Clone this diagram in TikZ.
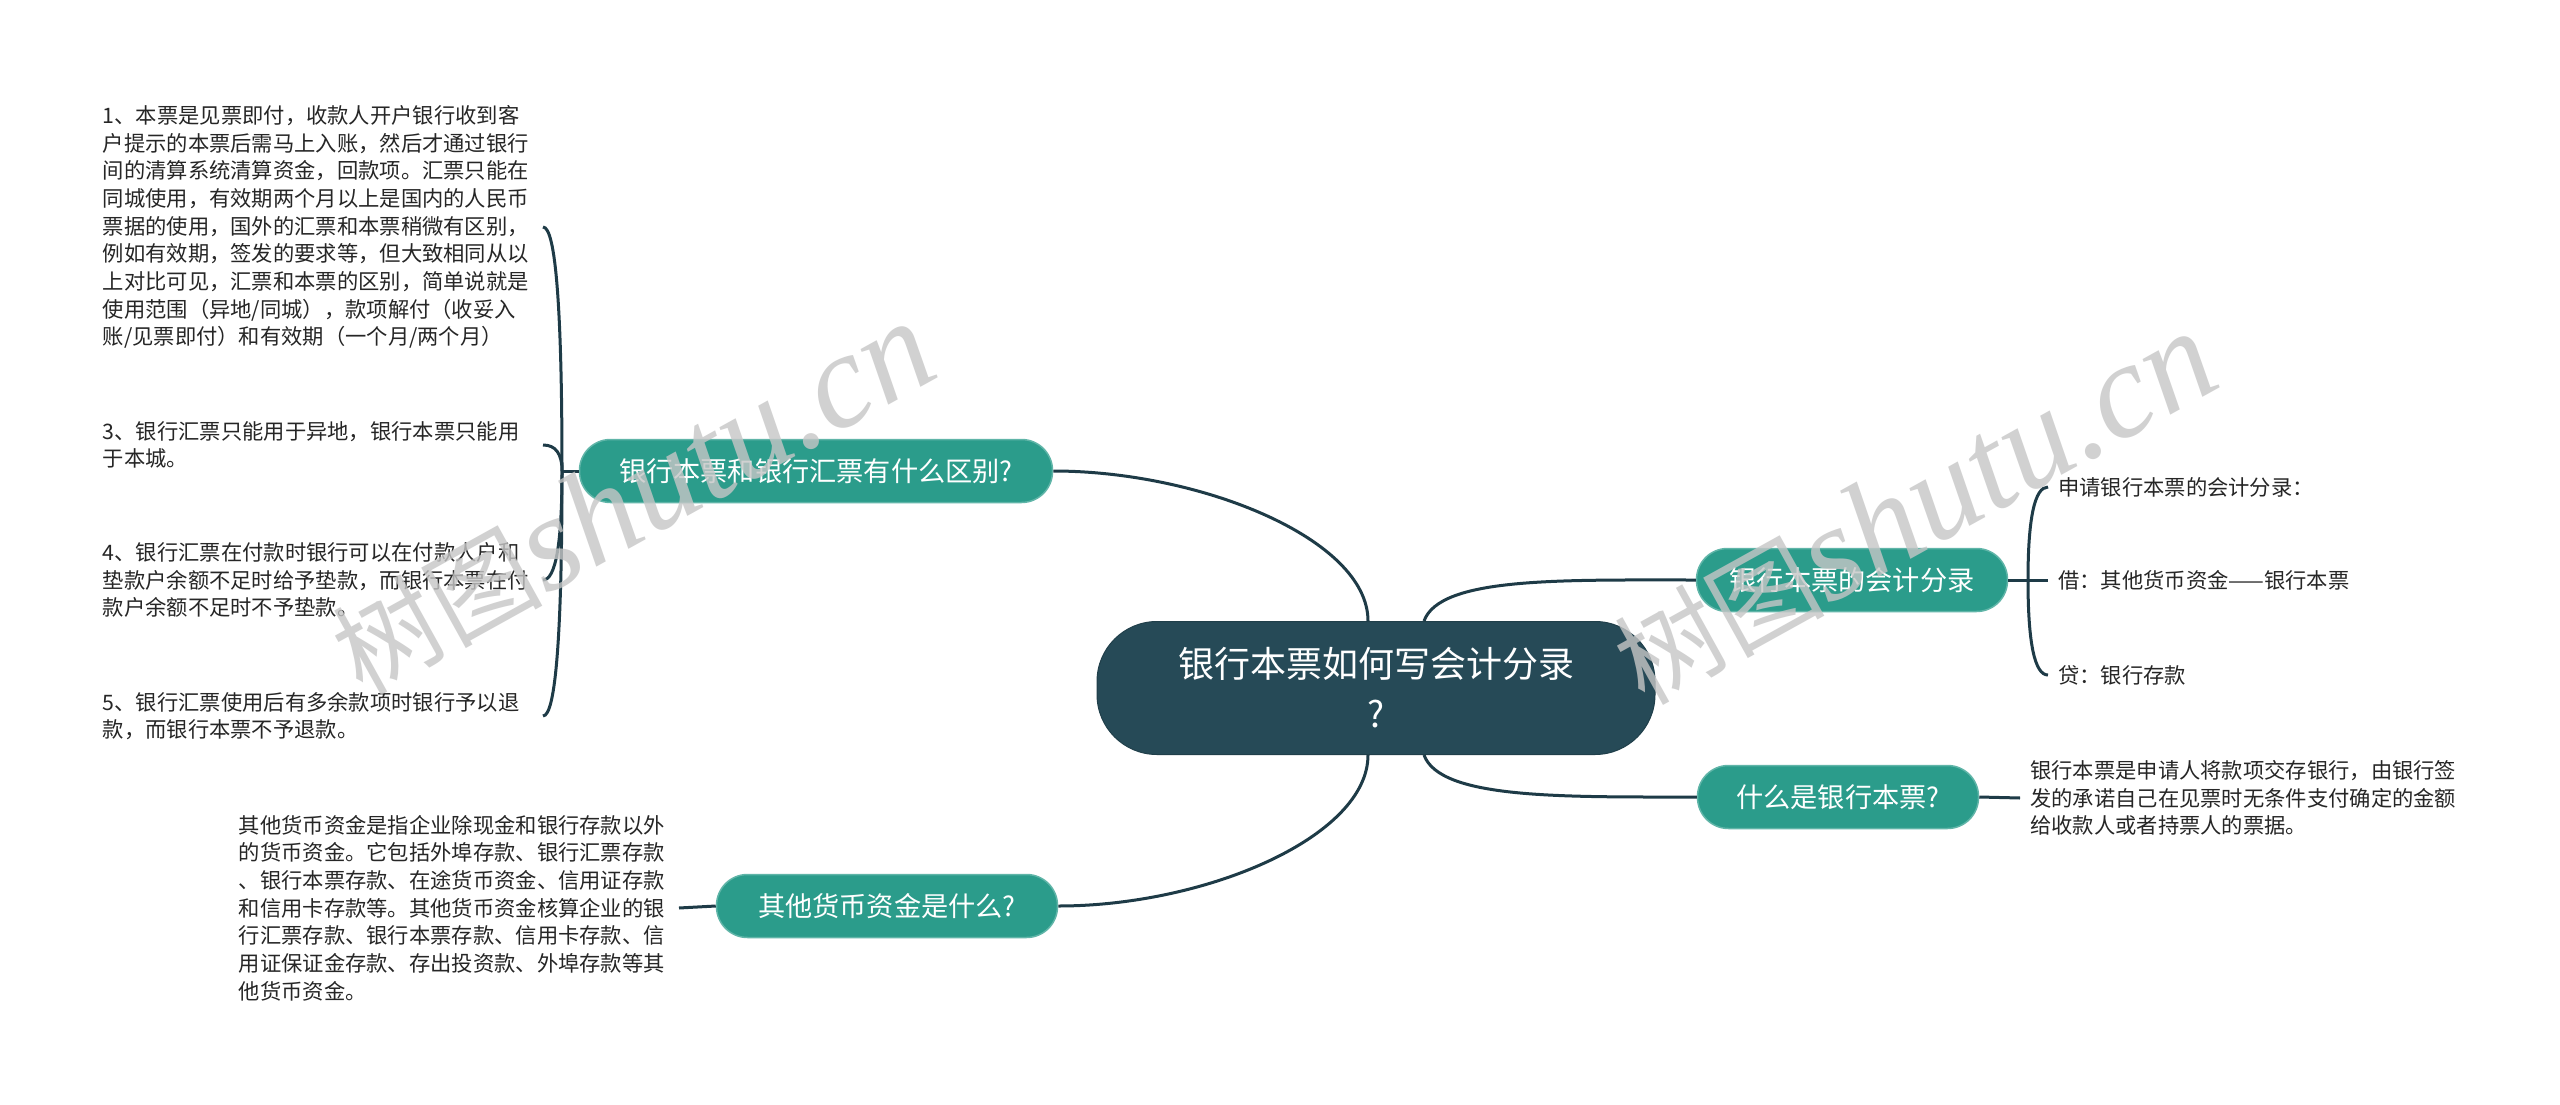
\documentclass[tikz,border=0pt]{standalone}
\usepackage{fontspec}
\setmainfont{Noto Sans CJK SC}
\newfontfamily\wmcjk{Noto Sans CJK SC}
\newfontfamily\wmlatin{Liberation Serif}
\usetikzlibrary{calc}

\definecolor{rootfill}{HTML}{264A57}
\definecolor{topicfill}{HTML}{2B9C8B}
\definecolor{linkcol}{HTML}{1E3B47}

\begin{document}
\begin{tikzpicture}[x=1pt,y=-1pt]
        % mind map, positions taken in pixels of the picture
        \tikzstyle{root} = [rectangle,rounded corners=60pt,fill=rootfill,draw=rootfill!85!black,line width=1pt,text=white,minimum width=558pt,minimum height=133pt,align=center,font=\fontsize{36}{50}\selectfont];
        \tikzstyle{topic} = [rectangle,rounded corners=31pt,fill=topicfill,draw=topicfill!75!white,line width=1.5pt,text=white,minimum height=63pt,font=\fontsize{27.2}{32}\selectfont];
        \tikzstyle{leaf} = [text width=430pt,align=left,inner xsep=10pt,text=black!85,font=\fontsize{21.3}{27.7}\selectfont];
        \tikzstyle{link} = [draw=linkcol,line width=3pt];
        \tikzstyle{bendlink} = [to path={.. controls ($(\tikztostart)!0.667!(\tikztostart |- \tikztotarget)$) and ($(\tikztotarget)!0.667!(\tikztostart |- \tikztotarget)$) .. (\tikztotarget)}];
        \tikzstyle{watermark} = [text=gray!45,text opacity=0.8,rotate=29,anchor=base];

        \fill[white] (0,0) rectangle (2560,1105);
        \useasboundingbox (0,0) rectangle (2560,1105);

        \node[root] (root) at (1376,688) {银行本票如何写会计分录\\?};
        \node[topic,minimum width=473pt] (diff) at (816,471) {银行本票和银行汇票有什么区别?};
        \node[topic,minimum width=311pt] (entry) at (1852,580) {银行本票的会计分录};
        \node[topic,minimum width=281pt] (what) at (1838,797) {什么是银行本票?};
        \node[topic,minimum width=341pt] (other) at (887,906) {其他货币资金是什么?};

        \node[leaf,anchor=east] (diff1) at (543,227) {1、本票是见票即付，收款人开户银行收到客\\户提示的本票后需马上入账，然后才通过银行\\间的清算系统清算资金，回款项。汇票只能在\\同城使用，有效期两个月以上是国内的人民币\\票据的使用，国外的汇票和本票稍微有区别，\\例如有效期，签发的要求等，但大致相同从以\\上对比可见，汇票和本票的区别，简单说就是\\使用范围（异地/同城），款项解付（收妥入\\账/见票即付）和有效期（一个月/两个月）};
        \node[leaf,anchor=east] (diff3) at (543,445) {3、银行汇票只能用于异地，银行本票只能用\\于本城。};
        \node[leaf,anchor=east] (diff4) at (543,580) {4、银行汇票在付款时银行可以在付款人户和\\垫款户余额不足时给予垫款，而银行本票在付\\款户余额不足时不予垫款。};
        \node[leaf,anchor=east] (diff5) at (543,716) {5、银行汇票使用后有多余款项时银行予以退\\款，而银行本票不予退款。};

        \node[leaf,anchor=west] (entry1) at (2048,487) {申请银行本票的会计分录：};
        \node[leaf,anchor=west] (entry2) at (2048,580) {借：其他货币资金——银行本票};
        \node[leaf,anchor=west] (entry3) at (2048,675) {贷：银行存款};

        \node[leaf,anchor=west] (what1) at (2020,798) {银行本票是申请人将款项交存银行，由银行签\\发的承诺自己在见票时无条件支付确定的金额\\给收款人或者持票人的票据。};
        \node[leaf,anchor=east] (other1) at (679,908) {其他货币资金是指企业除现金和银行存款以外\\的货币资金。它包括外埠存款、银行汇票存款\\、银行本票存款、在途货币资金、信用证存款\\和信用卡存款等。其他货币资金核算企业的银\\行汇票存款、银行本票存款、信用卡存款、信\\用证保证金存款、存出投资款、外埠存款等其\\他货币资金。};

        \coordinate (diffstem) at (562,471);
        \coordinate (entrystem) at (2028,580);

        \draw[link] ([xshift=-8pt]root.north) .. controls +(0,-82) and +(147,0) .. (diff.east);
        \draw[link] ([xshift=-8pt]root.south) .. controls +(0,82) and +(147,0) .. (other.east);
        \draw[link] ([xshift=48pt]root.north) .. controls +(16,-44) and +(-137,0) .. (entry.west);
        \draw[link] ([xshift=48pt]root.south) .. controls +(16,44) and +(-137,0) .. (what.west);

        \draw[link] (diff.west) -- (diffstem);
        \draw[link] (diffstem) to[bendlink] (diff1.east);
        \draw[link] (diffstem) to[bendlink] (diff3.east);
        \draw[link] (diffstem) to[bendlink] (diff4.east);
        \draw[link] (diffstem) to[bendlink] (diff5.east);

        \draw[link] (entry.east) -- (entrystem);
        \draw[link] (entrystem) to[bendlink] (entry1.west);
        \draw[link] (entrystem) -- (entry2.west);
        \draw[link] (entrystem) to[bendlink] (entry3.west);

        \draw[link] (what.east) -- (what1.west);
        \draw[link] (other.west) -- (other1.east);

        \node[watermark] (markleft) at (653,536) {{\fontsize{105}{105}\selectfont\wmcjk 树图}{\fontsize{135}{135}\selectfont\wmlatin\itshape shutu.cn}};
        \node[watermark] (markright) at (1935,546) {{\fontsize{105}{105}\selectfont\wmcjk 树图}{\fontsize{135}{135}\selectfont\wmlatin\itshape shutu.cn}};

    \end{tikzpicture}
\end{document}
